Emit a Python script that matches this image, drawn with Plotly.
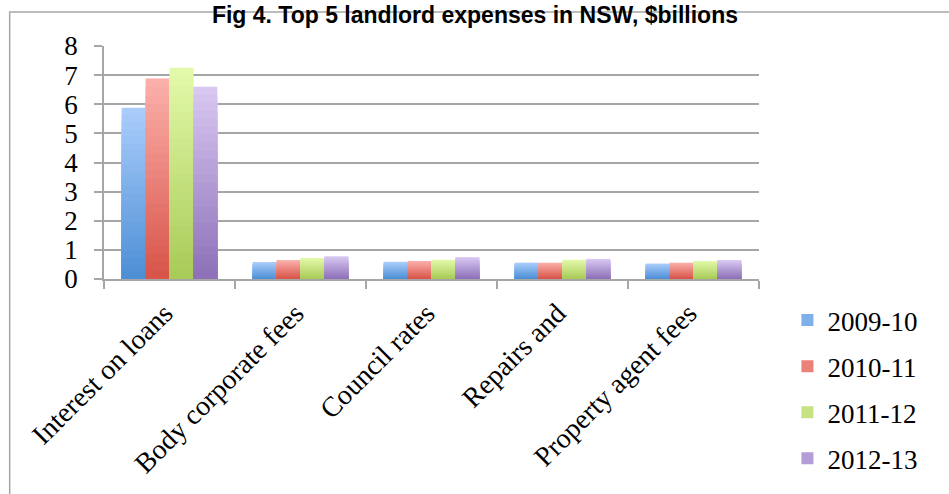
import plotly.graph_objects as go

categories = ["Interest on loans", "Body corporate fees", "Council rates", "Repairs and", "Property agent fees"]
series_names = ["2009-10", "2010-11", "2011-12", "2012-13"]
v_2009_10 = [5.88, 0.58, 0.59, 0.56, 0.53]
v_2010_11 = [6.88, 0.65, 0.62, 0.56, 0.56]
v_2011_12 = [7.25, 0.72, 0.66, 0.66, 0.62]
v_2012_13 = [6.6, 0.78, 0.75, 0.69, 0.65]
y_ticks = [0, 1, 2, 3, 4, 5, 6, 7, 8]

series_values = [v_2009_10, v_2010_11, v_2011_12, v_2012_13]
top_colors = ["#a9ccfb", "#fbafaa", "#e2f9a9", "#d7c7f1"]
bottom_colors = ["#4e90d6", "#d8554a", "#a9cb58", "#8e71b9"]
mid_colors = ["#7fb0ea", "#ea827a", "#c6e283", "#b39dd6"]

def hex2rgb(h):
    h = h.lstrip("#")
    return tuple(int(h[i:i + 2], 16) for i in (0, 2, 4))

def mix(c1, c2, t):
    a, b = hex2rgb(c1), hex2rgb(c2)
    return "rgb(%d,%d,%d)" % tuple(round(a[k] + (b[k] - a[k]) * t) for k in range(3))

N = 24
fig = go.Figure()
serif = "Liberation Serif"
for s, (name, vals) in enumerate(zip(series_names, series_values)):
    for i in range(N):
        f = 1 - i / N
        fig.add_trace(go.Bar(
            x=categories, y=[v * f for v in vals], name=name,
            offsetgroup=str(s), legendgroup=str(s), showlegend=False,
            marker=dict(color=mix(top_colors[s], bottom_colors[s], i / (N - 1)), line=dict(width=0)),
            hoverinfo="skip",
        ))
    fig.add_trace(go.Bar(
        x=categories, y=[None] * len(categories), name=name,
        offsetgroup=str(s), legendgroup=str(s), showlegend=True,
        marker=dict(color=mid_colors[s], line=dict(width=0)),
    ))

fig.update_layout(
    width=949, height=494,
    margin=dict(l=104, r=190, t=46, b=215, autoexpand=False),
    paper_bgcolor="white", plot_bgcolor="white",
    barmode="group", bargap=0.27, bargroupgap=0,
    title=dict(text="<b>Fig 4. Top 5 landlord expenses in NSW, $billions</b>",
               font=dict(family="Liberation Sans", size=23, color="black"),
               x=0.5005, xref="container", y=1 - 7 / 494, yref="container",
               xanchor="center", yanchor="top"),
    legend=dict(x=1.0434, y=-0.073, xanchor="left", yanchor="top",
                font=dict(family=serif, size=27, color="black"),
                tracegroupgap=8, itemwidth=30, bgcolor="rgba(0,0,0,0)"),
    font=dict(family=serif, color="black"),
    shapes=[dict(type="rect", xref="paper", yref="paper",
                 x0=-0.144, x1=1.5, y0=-1.2, y1=(279 - 12) / 233,
                 line=dict(color="#a6a6a6", width=1.5), layer="below")],
)
fig.update_yaxes(range=[0, 8], tickvals=y_ticks, showgrid=True, gridcolor="#a6a6a6", gridwidth=1.5,
                 showline=True, linecolor="#a6a6a6", linewidth=1.5,
                 ticks="outside", ticklen=8, tickcolor="#a6a6a6", tickwidth=1.5,
                 tickfont=dict(family=serif, size=27, color="black"), ticklabelstandoff=11,
                 zeroline=False, fixedrange=True, automargin=False)
fig.update_xaxes(type="category", showgrid=False, showline=True, linecolor="#a6a6a6", linewidth=1.5,
                 ticks="outside", ticklen=8, tickcolor="#a6a6a6", tickwidth=1.5, tickson="boundaries",
                 tickangle=-45, ticksuffix=" ", tickfont=dict(family=serif, size=28, color="black"),
                 fixedrange=True, automargin=False)

fig.write_html("out.html")
